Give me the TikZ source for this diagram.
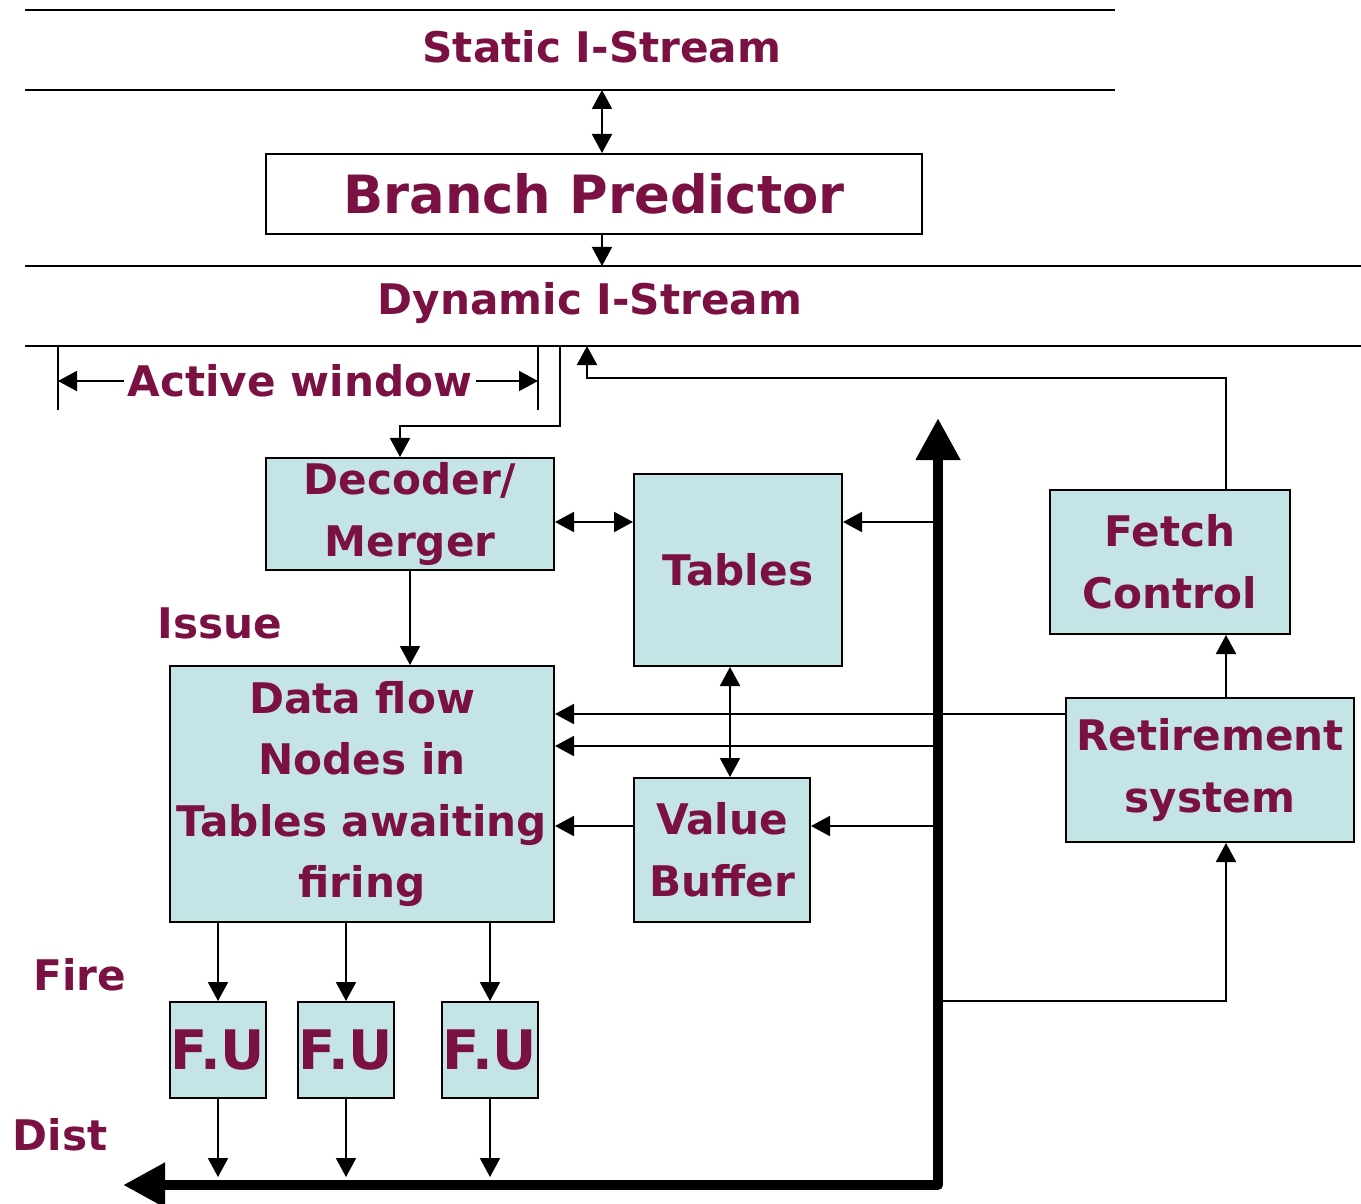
\documentclass[tikz,border=0pt]{standalone}
\usepackage{fontspec}
\setmainfont{DejaVu Sans}
\usetikzlibrary{arrows.meta, positioning}

\definecolor{wine}{HTML}{7B1042}
\definecolor{boxfill}{HTML}{C5E4E6}

\tikzset{
  block/.style={draw, line width=0.4mm, fill=boxfill, inner sep=0pt, align=center,
    text=wine, font=\bfseries\fontsize{24}{35}\selectfont},
  txt/.style={inner sep=0.6mm, text=wine, font=\bfseries\fontsize{24}{35}\selectfont},
  rule/.style={line width=0.4mm},
  wire/.style={line width=0.4mm, -{Triangle[length=3.8mm, width=4mm]}},
  both/.style={line width=0.4mm, {Triangle[length=3.8mm, width=4mm]}-{Triangle[length=3.8mm, width=4mm]}},
  bus/.style={line width=2.1mm, line join=round, {Triangle[length=8.4mm, width=8.4mm]}-{Triangle[length=8.4mm, width=8.4mm]}},
  fu/.style={block, minimum size=19.2mm, font=\bfseries\fontsize{31}{36}\selectfont}
}

\begin{document}
\begin{tikzpicture}[x=0.2mm, y=-0.2mm]
\useasboundingbox (0,0) rectangle (1361,1204);

% instruction streams
\draw[rule] (25,10) -- (1115,10);
\draw[rule] (25,90) -- (1115,90);
\node[txt] (static) at (602,47) {Static I-Stream};
\node[block, fill=white, minimum width=131.2mm, minimum height=16mm,
  font=\bfseries\fontsize{30}{36}\selectfont] (pred) at (594,194) {Branch Predictor};
\draw[rule] (25,266) -- (1361,266);
\draw[rule] (25,346) -- (1361,346);
\node[txt] (dyn) at (590,303) {Dynamic I-Stream};

\coordinate (s1) at (602,90);
\coordinate (s2) at (602,266);
\draw[both] (s1) -- (s1 |- pred.north);
\draw[wire] (s2 |- pred.south) -- (s2);

% active window
\coordinate (aw1) at (58,346);
\coordinate (aw2) at (538,346);
\draw[rule] (aw1) -- ++(0,64);
\draw[rule] (aw2) -- ++(0,64);
\node[txt] (active) at (300,381) {Active window};
\draw[wire] (active.west) -- (active.west -| aw1);
\draw[wire] (active.east) -- (active.east -| aw2);

% blocks
\node[block, minimum width=57.6mm, minimum height=22.4mm] (dec) at (410,514) {Decoder/\\Merger};
\node[block, minimum width=41.6mm, minimum height=38.4mm] (tab) at (738,570) {Tables};
\node[block, minimum width=48mm, minimum height=28.8mm] (fetch) at (1170,562) {Fetch\\Control};
\node[block, minimum width=57.6mm, minimum height=28.8mm] (ret) at (1210,770) {Retirement\\system};
\node[block, minimum width=76.8mm, minimum height=51.2mm] (flow) at (362,794)
  {Data flow\\Nodes in\\Tables awaiting\\firing};
\node[block, minimum width=35.2mm, minimum height=28.8mm] (vbuf) at (722,850) {Value\\Buffer};
\node[fu] (fu1) at (218,1050) {F.U};
\node[fu] (fu2) at (346,1050) {F.U};
\node[fu] (fu3) at (490,1050) {F.U};

\node[txt] (issue) at (220,623) {Issue};
\node[txt] (fire) at (80,975) {Fire};
\node[txt] (dist) at (60,1135) {Dist};

% result bus
\coordinate (btop) at (938,418);
\coordinate (bcorner) at (938,1185);
\coordinate (bend) at (123,1185);
\draw[bus] (btop) -- (bcorner) -- (bend);

\coordinate (t1) at (938,522);
\coordinate (t2) at (938,746);
\coordinate (t3) at (938,826);
\coordinate (t4) at (938,1001);
\coordinate (col) at (1226,0);
\coordinate (tv) at (730,0);
\coordinate (r1) at (0,714);
\coordinate (arrive) at (0,1177);
\coordinate (feed) at (560,346);
\coordinate (back) at (587,346);

% connectors
\draw[wire] (feed) -- ++(0,80) -| ([xshift=-2mm]dec.north);
\draw[wire] (fetch.north -| col) |- ([yshift=-6.4mm]back) -- (back);
\draw[both] (dec.east |- t1) -- (tab.west |- t1);
\draw[wire] (t1) -- (t1 -| tab.east);
\draw[wire] (ret.north -| col) -- (fetch.south -| col);
\draw[wire] (t4) -| (ret.south -| col);
\draw[wire] (dec.south) -- (dec.south |- flow.north);
\draw[wire] (ret.west |- r1) -- (flow.east |- r1);
\draw[wire] (t2) -- (flow.east |- t2);
\draw[both] (tab.south -| tv) -- (vbuf.north -| tv);
\draw[wire] (vbuf.west |- t3) -- (flow.east |- t3);
\draw[wire] (t3) -- (vbuf.east |- t3);
\foreach \i in {1,2,3} {
  \draw[wire] (fu\i.north |- flow.south) -- (fu\i.north);
  \draw[wire] (fu\i.south) -- (fu\i.south |- arrive);
}
\end{tikzpicture}
\end{document}
